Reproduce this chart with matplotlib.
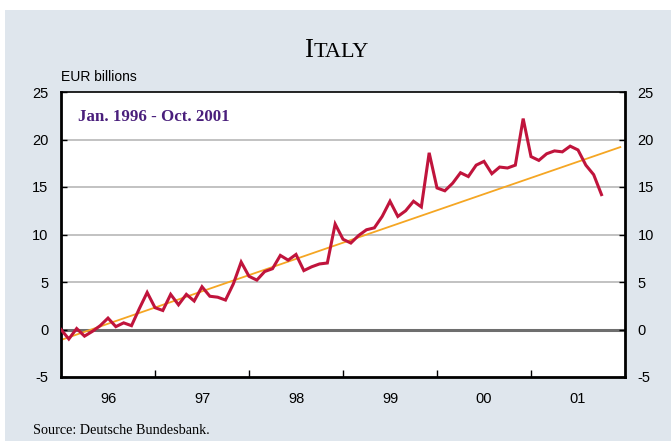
import numpy as np
import matplotlib
matplotlib.use('Agg')
import matplotlib.pyplot as plt
from matplotlib.patches import Rectangle

plt.rcParams['axes.unicode_minus'] = False

# monthly balance, Jan 1996 - Oct 2001 (EUR billions)
values = [0.0, -1.0, 0.1, -0.7, -0.2, 0.4, 1.2, 0.3, 0.7, 0.4, 2.2, 3.9,
          2.3, 2.0, 3.7, 2.6, 3.7, 3.0, 4.5, 3.5, 3.4, 3.1, 4.8, 7.1,
          5.6, 5.2, 6.1, 6.4, 7.8, 7.3, 7.9, 6.2, 6.6, 6.9, 7.0, 11.1,
          9.5, 9.1, 9.9, 10.5, 10.7, 11.9, 13.5, 11.9, 12.5, 13.5, 12.9, 18.6,
          14.9, 14.6, 15.4, 16.5, 16.1, 17.3, 17.7, 16.4, 17.1, 17.0, 17.3, 22.2,
          18.2, 17.8, 18.5, 18.8, 18.7, 19.3, 18.9, 17.3, 16.3, 14.2]
start_year = 1996
trend_x = [1996.0, 2001.95]
trend_y = [-1.1, 19.2]
year_labels = ['96', '97', '98', '99', '00', '01']
y_ticks = [-5, 0, 5, 10, 15, 20, 25]

months = start_year + np.arange(len(values)) / 12.0

W, H = 671, 445
fig = plt.figure(figsize=(W / 100, H / 100), dpi=100, facecolor='white')
fig.patches.append(Rectangle((5 / W, 1 - 441 / H), 1 - 5 / W, 431 / H,
                             transform=fig.transFigure, facecolor='#dfe6ed',
                             edgecolor='none', zorder=-1))

ax = fig.add_axes([61 / W, 1 - 377 / H, 564 / W, 285 / H])
ax.set_facecolor('white')

for v in [5, 10, 15, 20]:
    ax.axhline(v, color='#b8b8b8', lw=1.2, zorder=1)
ax.axhline(0, color='#6e6e6e', lw=2.2, zorder=1)

ax.plot(trend_x, trend_y, color='#f5a623', lw=1.3, zorder=2)
ax.plot(months, values, color='#c0143c', lw=2.2, zorder=3, solid_joinstyle='miter')

ax.set_xlim(1996, 2002)
ax.set_ylim(-5, 25)
ax.set_yticks(y_ticks)
ax.set_xticks(np.arange(1997, 2002))
ax.set_xticklabels([])
ax.set_xticks(np.arange(1996, 2002) + 0.5, minor=True)
ax.set_xticklabels(year_labels, minor=True)

for s in ['left', 'right', 'bottom']:
    ax.spines[s].set_linewidth(2)
    ax.spines[s].set_color('black')
ax.spines['top'].set_linewidth(1.2)

ax.tick_params(axis='y', direction='in', length=4, width=1, left=True, right=True,
               labelleft=True, labelright=True, pad=9, labelsize=10.5)
ax.tick_params(axis='x', which='major', direction='in', length=5, width=1)
ax.tick_params(axis='x', which='minor', length=0, pad=11, labelsize=10.5)
for lab in ax.get_yticklabels() + ax.get_xticklabels(minor=True):
    lab.set_fontfamily('Liberation Sans')

ax.text(0.03, 0.94, 'Jan. 1996 - Oct. 2001', transform=ax.transAxes,
        fontfamily='Liberation Serif', fontweight='bold', fontsize=12.2,
        color='#4a1f7c', va='top', ha='left')

fig.text(61 / W, 1 - 81 / H, 'EUR billions', fontfamily='Liberation Sans',
         fontsize=10, ha='left', va='baseline')
fig.text(313 / W, 1 - 57 / H, 'I', fontfamily='Liberation Serif', fontsize=19.5,
         ha='right', va='baseline')
fig.text(313.5 / W, 1 - 57 / H, 'TALY', fontfamily='Liberation Serif', fontsize=16,
         ha='left', va='baseline')
fig.text(33 / W, 1 - 434 / H, 'Source: Deutsche Bundesbank.', fontfamily='Liberation Serif',
         fontsize=10.2, ha='left', va='baseline')

fig.savefig('out.png', dpi=100)
